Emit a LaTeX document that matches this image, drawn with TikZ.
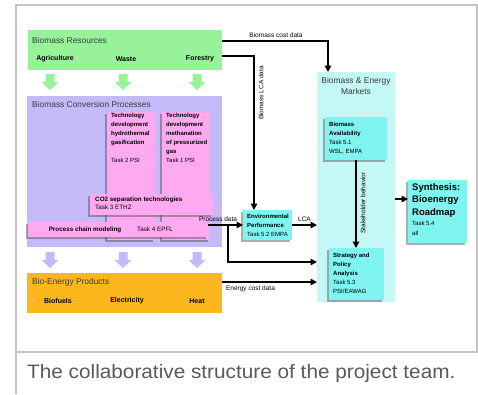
\documentclass[tikz,border=0pt]{standalone}
\usepackage{fontspec}
\usepackage{graphicx}
\setmainfont{Liberation Sans}
\usetikzlibrary{arrows.meta,shadows,calc}
\definecolor{cgreen}{HTML}{98F29A}
\definecolor{cpurple}{HTML}{C6B9F8}
\definecolor{cpink}{HTML}{FFAAF0}
\definecolor{corange}{HTML}{FDB71E}
\definecolor{ccyan}{HTML}{80F4F0}
\definecolor{clcyan}{HTML}{C4F8F6}
\definecolor{cframe}{HTML}{C4C4C4}
\definecolor{ctitle}{HTML}{3A3A3A}
\definecolor{ccap}{HTML}{5A5A5A}
\begin{document}
\begin{tikzpicture}[x=1pt,y=-1pt,
  box/.style={draw=none, inner sep=0pt, outer sep=0pt, anchor=north west},
  shd/.style={drop shadow={shadow xshift=-2pt, shadow yshift=-2pt, opacity=0.45, fill=black!70}},
  title/.style={font=\fontsize{8.4}{11}\selectfont, text=ctitle, inner sep=0pt},
  item/.style={font=\fontsize{7}{8}\selectfont\bfseries, inner sep=0pt},
  bt/.style={font=\fontsize{6}{9}\selectfont\bfseries, align=left, inner sep=0pt, anchor=north west},
  nt/.style={font=\fontsize{6}{9}\selectfont, align=left, inner sep=0pt, anchor=north west},
  lbl/.style={font=\fontsize{6.5}{7}\selectfont, inner sep=0pt},
  arr/.style={line width=1.6pt, -{Triangle[length=6.5pt,width=6.5pt]}},
  pics/downarrow/.style={code={\fill[#1] (-4.5,0) -- (4.5,0) -- (4.5,8) -- (8.5,8) -- (0,16) -- (-8.5,8) -- (-4.5,8) -- cycle;}}
]
\useasboundingbox (0,0) rectangle (478,394);
\fill[white] (0,0) rectangle (478,394);
\draw[cframe, line width=1.3pt] (16,394) -- (16,5) -- (477,5) -- (477,352) -- (16,352);

% Biomass resources
\node[box, fill=cgreen, minimum width=194pt, minimum height=40pt] (res) at (28,30) {};
\node[title, anchor=west] (restitle) at (32,40) {Biomass Resources};
\node[item] (agri) at (55,59) {Agriculture};
\node[item] (waste) at (126,59) {Waste};
\node[item] (forest) at (200,59) {Forestry};
\pic at (50,74) {downarrow=cgreen};
\pic at (123,74) {downarrow=cgreen};
\pic at (197,74) {downarrow=cgreen};

% Conversion processes
\node[box, fill=cpurple, minimum width=195pt, minimum height=151pt] (conv) at (27,96) {};
\node[title, anchor=west] (convtitle) at (32,104) {Biomass Conversion Processes};
\node[box, fill=cpink, shd, minimum width=48pt, minimum height=128pt] (hyd) at (107,112) {};
\node[box, fill=cpink, shd, minimum width=48pt, minimum height=128pt] (meth) at (162,112) {};
\node[bt] (hydtxt) at (111,113) {Technology\\development\\hydrothermal\\gasification};
\node[nt] (hydtask) at (111,158) {Task 2 PSI};
\node[bt] (methtxt) at (166,113) {Technology\\development\\methanation\\of pressurized\\gas};
\node[nt] (methtask) at (166,158) {Task 1 PSI};
\node[box, fill=cpink, shd, minimum width=123pt, minimum height=21pt] (co2) at (90,194) {};
\node[bt, font=\fontsize{6.3}{8}\selectfont\bfseries] (co2txt) at (95,196.5) {CO2 separation technologies};
\node[nt, font=\fontsize{6.3}{8}\selectfont] (co2task) at (95,204.5) {Task 3 ETHZ};
\node[box, fill=cpink, shd, minimum width=180pt, minimum height=15pt] (chain) at (28,222) {};
\node[item, font=\fontsize{6.3}{8}\selectfont\bfseries] (chaintxt) at (85,229.5) {Process chain modeling};
\node[inner sep=0pt, font=\fontsize{6.3}{8}\selectfont] (chaintask) at (155,229.5) {Task 4 EPFL};
\pic at (50,252) {downarrow=cpurple};
\pic at (123,252) {downarrow=cpurple};
\pic at (197,252) {downarrow=cpurple};

% Bio-energy products
\node[box, fill=corange, minimum width=195pt, minimum height=40pt] (prod) at (27,273) {};
\node[title, anchor=west] (prodtitle) at (32,282) {Bio-Energy Products};
\node[item] (biofuels) at (58,301) {Biofuels};
\node[item] (elec) at (127,301) {Electricity};
\node[item] (heat) at (197,301) {Heat};

% Markets
\node[box, fill=clcyan, minimum width=78pt, minimum height=230pt] (mkt) at (317,72) {};
\node[title, align=center] (mkttitle) at (356,86) {Biomass \& Energy\\Markets};
\node[box, fill=ccyan, shd, minimum width=62pt, minimum height=43pt] (avail) at (325,117) {};
\node[bt] (availtxt) at (329,122) {Biomass\\Availability};
\node[nt] (availtask) at (329,140) {Task 5.1\\WSL, EMPA};
\node[box, fill=ccyan, shd, minimum width=55pt, minimum height=52pt] (strat) at (328.5,248) {};
\node[bt] (strattxt) at (333,253) {Strategy and\\Policy\\Analysis};
\node[nt] (strattask) at (333,280) {Task 5.3\\PSI/EAWAG};

% Environmental performance
\node[box, fill=ccyan, shd, minimum width=49pt, minimum height=30pt] (env) at (243,210) {};
\node[bt] (envtxt) at (247,214) {Environmental\\Performance};
\node[nt] (envtask) at (247,232) {Task 5.2 EMPA};

% Synthesis
\node[box, fill=ccyan, shd, minimum width=59pt, minimum height=63pt] (syn) at (408,180) {};
\node[bt, font=\fontsize{9.5}{12.5}\selectfont\bfseries] (syntxt) at (412,183) {Synthesis:\\Bioenergy\\Roadmap};
\node[nt, font=\fontsize{6}{10}\selectfont] (syntask) at (412,221) {Task 5.4\\all};

% connectors
\draw[arr] (res.east |- 0,41) -| (328,72);
\node[lbl] (lcost) at (276,35) {Biomass cost data};
\coordinate (lcaturn) at (254,56);
\draw[arr] (res.east |- lcaturn) -- (lcaturn) -- (lcaturn |- env.north);
\node[lbl, rotate=90] (llca) at (261,93) {Biomass LCA data};
\coordinate (br) at (228,225);
\draw[arr] (chain.east |- br) -- (env.west |- br);
\node[lbl] (lproc) at (218,219.5) {Process data};
\draw[arr] (br) |- (mkt.west |- 0,262);
\draw[arr] (env.east |- br) -- (mkt.west |- br) node[lbl, midway, above=3pt] (llcab) {LCA};
\draw[arr] (prod.east |- 0,282) -- (mkt.west |- 0,282) node[lbl, pos=0.3, below=3pt] (lenergy) {Energy cost data};
\draw[arr] (avail.south) -- (avail.south |- strat.north);
\node[lbl, rotate=90] (lstake) at (363,203) {Stakeholder behavior};
\draw[arr] (mkt.east |- 0,199) -- (syn.west |- 0,199);

% caption
\node[anchor=west, inner sep=0pt, font=\fontsize{19.5}{22}\selectfont, text=ccap] (cap) at (27,373) {\scalebox{1.065}[1]{The collaborative structure of the project team.}};
\end{tikzpicture}
\end{document}
